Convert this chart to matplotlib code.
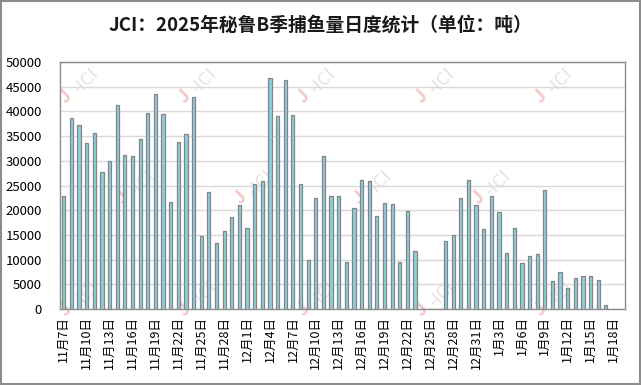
import numpy as np
import pandas as pd
import matplotlib
matplotlib.use('Agg')
import matplotlib.pyplot as plt
from matplotlib.patches import Rectangle

plt.rcParams['font.family'] = ['Noto Sans CJK SC', 'DejaVu Sans']

# daily catch, 11/7 .. 1/18 (tonnes)
nov = [22800, 38700, 37300, 33600, 35700, 27800, 30000, 41300, 31100, 31000,
       34400, 39700, 43600, 39400, 21700, 33900, 35500, 42900, 14700, 23800,
       13300, 15900, 18700, 21100]
dec = [16400, 25400, 26000, 46700, 39100, 46400, 39200, 25400, 9900, 22500,
       30900, 22900, 22800, 9600, 20400, 26200, 25900, 18900, 21500, 21200,
       9500, 19900, 11700, 0, 0, 0, 13700, 15000, 22500, 26100, 21000]
jan = [16300, 22900, 19700, 11400, 16500, 9300, 10700, 11200, 24200, 5700,
       7600, 4300, 6300, 6700, 6700, 5900, 800, 0]
catch = nov + dec + jan

dates = pd.date_range('2025-11-07', periods=len(catch), freq='D')
labels = ['{}月{}日'.format(d.month, d.day) for d in dates]

fig = plt.figure(figsize=(6.41, 3.85), dpi=100)
ax = fig.add_axes([0.0936, 0.197, 0.8814, 0.642])

x = np.arange(len(catch))
ax.bar(x, catch, width=0.42, color='#8ccfe0', edgecolor='#858585', linewidth=0.9, zorder=3)

ax.set_xlim(-0.5, len(catch) + 0.5)
ax.set_ylim(0, 50000)
ax.set_yticks(np.arange(0, 50001, 5000))
ax.set_xticks(x[::3])
ax.set_xticklabels(labels[::3], rotation=90, fontsize=9)
ax.tick_params(axis='y', labelsize=9.5, length=0, pad=13)
ax.tick_params(axis='x', length=0, pad=5)
ax.yaxis.grid(True, color='#d9d9d9', linewidth=1, zorder=0)
for s in ax.spines.values():
    s.set_color('#8c8c8c')
    s.set_linewidth(1)

# faint watermark logos
def logo(xf, yf):
    ax.text(xf, yf, 'J', transform=ax.transAxes, rotation=45, fontsize=13, fontweight='bold',
            color='#f7c8c8', ha='center', va='center', zorder=1)
    ax.text(xf + 0.035, yf + 0.06, '-ICI', transform=ax.transAxes, rotation=45, fontsize=13,
            color='#e4e4e4', ha='center', va='center', zorder=1)

for xf in [0.01, 0.22, 0.43, 0.64, 0.85]:
    logo(xf, 0.86)
    logo(xf, 0.0)
for xf in [0.11, 0.32, 0.53, 0.74]:
    logo(xf, 0.45)

fig.text(0.5, 0.935, 'JCI：2025年秘鲁B季捕鱼量日度统计（单位：吨）', ha='center', va='center',
         fontsize=13.5, fontweight='bold', color='#1a1a1a')

fig.patches.append(Rectangle((0.002, 0.003), 0.996, 0.994, transform=fig.transFigure,
                             fill=False, edgecolor='#8c8c8c', linewidth=1.5))

fig.savefig('out.png', dpi=100)
